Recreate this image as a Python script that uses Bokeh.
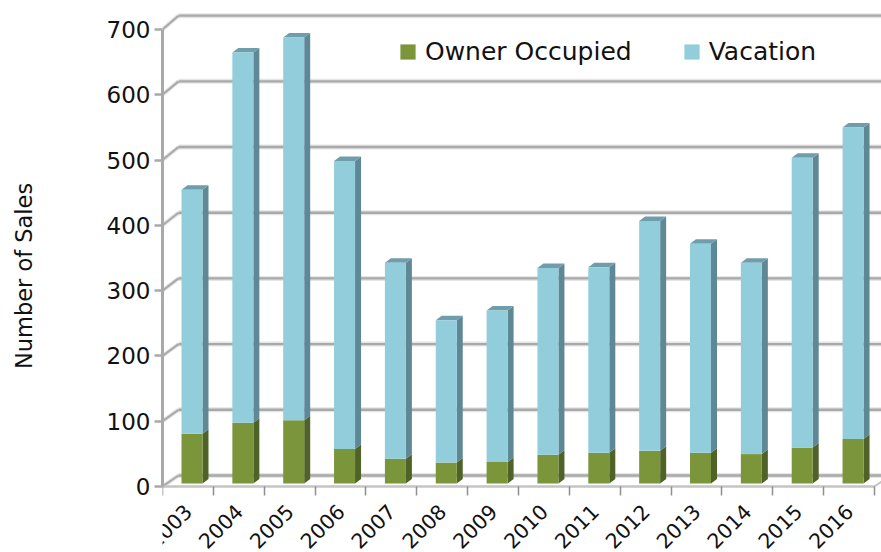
from math import pi
from bokeh.plotting import figure
from bokeh.models import FixedTicker, Legend, LegendItem
from bokeh.embed import file_html
from bokeh.resources import INLINE

years = [2003, 2004, 2005, 2006, 2007, 2008, 2009, 2010, 2011, 2012, 2013, 2014, 2015, 2016]
owner = [76, 93, 97, 53, 38, 32, 33, 44, 47, 50, 47, 45, 55, 68]
total = [450, 660, 683, 494, 338, 250, 265, 330, 331, 402, 367, 338, 499, 545]
vacation = [t - o for t, o in zip(total, owner)]
y_ticks = [0, 100, 200, 300, 400, 500, 600, 700]

FONT = "DejaVu Sans"
GRID = "#a9a9a9"
SLOT = 50.85
PX_Y = 0.653
W, H = 881, 552
LEFT = 162
ZERO_PX = 486      # page row of value 0
FRAME_BOTTOM = 551 # frame reaches past the rotated year labels, which it would clip

fig_w = W - LEFT
p = figure(width=W, height=H, output_backend="svg", toolbar_location=None,
           frame_width=fig_w, frame_height=FRAME_BOTTOM,
           x_range=(0, fig_w / SLOT),
           y_range=(-(FRAME_BOTTOM - ZERO_PX) / PX_Y, ZERO_PX / PX_Y),
           min_border_left=LEFT, min_border_right=0, min_border_top=0,
           min_border_bottom=H - FRAME_BOTTOM,
           outline_line_color=None, background_fill_color="white", border_fill_color="white")
p.grid.visible = False

# perspective offsets, in data units
wall_dx = 16 / SLOT
def back(v):
    return 11 / PX_Y + 1.006 * v

x_end = fig_w / SLOT + 0.2
for w, a, c in [(5, 0.25, "#999999"), (2.4, 1, GRID)]:
    p.segment(x0=[wall_dx] * len(y_ticks), x1=[x_end] * len(y_ticks),
              y0=[back(v) for v in y_ticks], y1=[back(v) for v in y_ticks],
              line_color=c, line_width=w, line_alpha=a)
    p.segment(x0=[0] * len(y_ticks), x1=[wall_dx] * len(y_ticks),
              y0=y_ticks, y1=[back(v) for v in y_ticks],
              line_color=c, line_width=w * 0.85, line_alpha=a)
# floor right edge
n = len(years)
p.segment(x0=[n], x1=[n + wall_dx], y0=[0], y1=[back(0)], line_color="#c4c4c4", line_width=2)

BAR_L, BAR_W = 19 / SLOT, 21 / SLOT
DX, DY = 6 / SLOT, 4.5 / PX_Y
BASE = 3 / PX_Y
lefts = [i + BAR_L for i in range(n)]
rights = [l + BAR_W for l in lefts]
o_top = [BASE + o for o in owner]
t_top = [BASE + o + v for o, v in zip(owner, vacation)]
zero = [BASE] * n

def side(bot, top):
    return ([[r, r + DX, r + DX, r] for r in rights],
            [[b, b + DY, t + DY, t] for b, t in zip(bot, top)])

xs, ys = side(zero, o_top)
p.patches(xs, ys, fill_color="#4f6228", line_color=None)
xs, ys = side(o_top, t_top)
p.patches(xs, ys, fill_color="#5f8896", line_color=None)
p.patches([[l, l + DX, r + DX, r] for l, r in zip(lefts, rights)],
          [[t, t + DY, t + DY, t] for t in t_top],
          fill_color="#6f9dab", line_color=None)
r_owner = p.quad(left=lefts, right=rights, bottom=zero, top=o_top, fill_color="#7a953a", line_color=None)
r_vac = p.quad(left=lefts, right=rights, bottom=o_top, top=t_top, fill_color="#92cddc", line_color=None)

legend = Legend(items=[LegendItem(label="Owner Occupied", renderers=[r_owner]),
                       LegendItem(label="Vacation", renderers=[r_vac])],
                orientation="horizontal", location=(236, 420 + FRAME_BOTTOM - ZERO_PX),
                background_fill_alpha=0, border_line_color=None,
                glyph_width=19, glyph_height=19, label_standoff=8, spacing=50,
                label_text_font=FONT, label_text_font_size="25px", label_text_color="#111111",
                padding=0, margin=0)
p.add_layout(legend, "center")

# axes
ya = p.yaxis[0]
ya.ticker = FixedTicker(ticks=y_ticks)
ya.bounds = (0, 700)
ya.axis_line_color = GRID
ya.axis_line_width = 3
ya.major_tick_line_color = GRID
ya.major_tick_line_width = 2.4
ya.major_tick_out = 8
ya.major_tick_in = 0
ya.minor_tick_line_color = None
ya.major_label_text_font = FONT
ya.major_label_text_font_size = "23px"
ya.major_label_text_color = "#111111"
ya.major_label_standoff = 4
ya.axis_label = "Number of Sales"
ya.axis_label_text_font = FONT
ya.axis_label_text_font_size = "22.5px"
ya.axis_label_text_font_style = "normal"
ya.axis_label_text_color = "#111111"
ya.axis_label_standoff = 67

xa = p.xaxis[0]
xa.fixed_location = 0
xa.ticker = FixedTicker(ticks=[i + 0.5 for i in range(n)], minor_ticks=list(range(n + 1)))
xa.major_label_overrides = {i + 0.5: str(y) for i, y in enumerate(years)}
xa.bounds = (0, n)
xa.axis_line_color = "#c4c4c4"
xa.axis_line_width = 2.5
xa.major_tick_line_color = None
xa.major_tick_out = 0
xa.major_tick_in = 0
xa.minor_tick_line_color = "#8f8f8f"
xa.minor_tick_line_width = 1.5
xa.minor_tick_out = 9
xa.minor_tick_in = 0
xa.major_label_orientation = pi / 4
xa.major_label_text_font = FONT
xa.major_label_text_font_size = "20.5px"
xa.major_label_text_color = "#111111"
xa.major_label_standoff = 12

open("out.html", "w").write(file_html(p, INLINE))
